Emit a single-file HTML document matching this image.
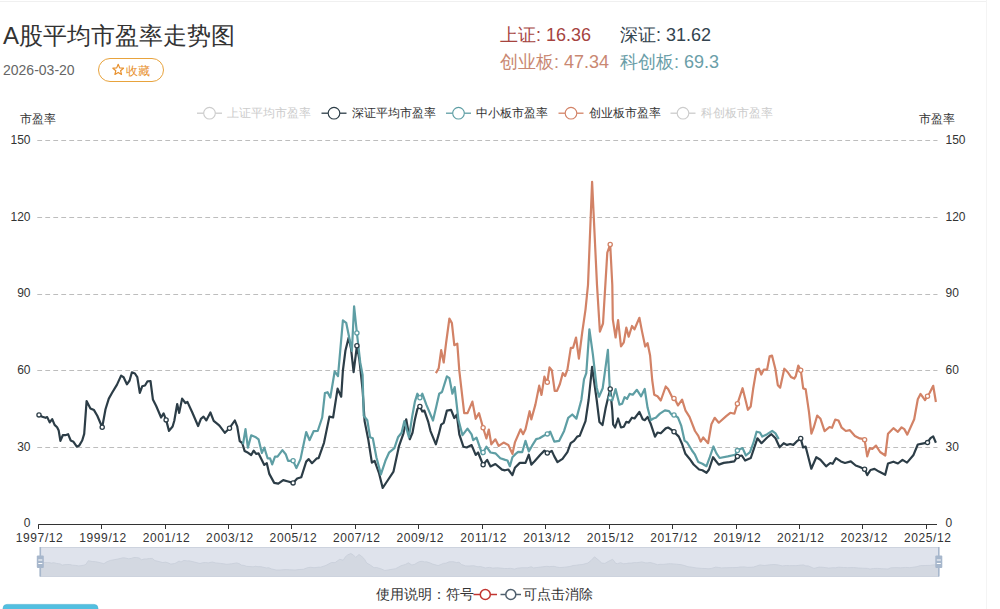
<!DOCTYPE html>
<html><head><meta charset="utf-8"><style>
html,body{margin:0;padding:0;background:#fff;}
body{width:1000px;height:609px;overflow:hidden;position:relative;font-family:"Liberation Sans",sans-serif;}
svg{position:absolute;left:0;top:0;}
.ax{font-size:12px;fill:#333;}
.lg{font-size:12px;}
.bt{font-size:14px;fill:#333;}
.ttl{font-size:24px;fill:#333;}
.dt{font-size:14px;fill:#666;}
.st{font-size:18px;}
</style></head><body>
<svg width="1000" height="609" viewBox="0 0 1000 609" font-family="Liberation Sans, sans-serif">
<line x1="0" y1="1.5" x2="986" y2="1.5" stroke="#f0f0f0" stroke-width="1"/>
<line x1="986.5" y1="0" x2="986.5" y2="609" stroke="#f4f4f4" stroke-width="1"/>
<text x="3" y="44" class="ttl">A股平均市盈率走势图</text>
<text x="3" y="75" class="dt">2026-03-20</text>
<rect x="98.5" y="58.5" width="65" height="23" rx="11.5" fill="#fff" stroke="#e8a33d" stroke-width="1"/>
<path d="M118.20,63.70 L119.67,67.28 L123.53,67.57 L120.58,70.07 L121.49,73.83 L118.20,71.80 L114.91,73.83 L115.82,70.07 L112.87,67.57 L116.73,67.28 Z" fill="none" stroke="#e8912e" stroke-width="1.2" stroke-linejoin="round" transform="translate(0,0.6)"/>
<text x="126" y="74.5" font-size="12" fill="#e8912e">收藏</text>
<text x="500" y="41" class="st" fill="#a6443f">上证: 16.36</text>
<text x="620" y="41" class="st" fill="#34444f">深证: 31.62</text>
<text x="500" y="67.5" class="st" fill="#c98872">创业板: 47.34</text>
<text x="620" y="67.5" class="st" fill="#6a9ea8">科创板: 69.3</text>
<line x1="37.3" y1="447.5" x2="937.5" y2="447.5" stroke="#bdbdbd" stroke-width="1" stroke-dasharray="4.8,3.2"/>
<line x1="37.3" y1="370.5" x2="937.5" y2="370.5" stroke="#bdbdbd" stroke-width="1" stroke-dasharray="4.8,3.2"/>
<line x1="37.3" y1="294.5" x2="937.5" y2="294.5" stroke="#bdbdbd" stroke-width="1" stroke-dasharray="4.8,3.2"/>
<line x1="37.3" y1="217.5" x2="937.5" y2="217.5" stroke="#bdbdbd" stroke-width="1" stroke-dasharray="4.8,3.2"/>
<line x1="37.3" y1="140.5" x2="937.5" y2="140.5" stroke="#bdbdbd" stroke-width="1" stroke-dasharray="4.8,3.2"/>
<text x="30.5" y="527.4" text-anchor="end" class="ax">0</text>
<text x="945.5" y="527.4" text-anchor="start" class="ax">0</text>
<text x="30.5" y="450.7" text-anchor="end" class="ax">30</text>
<text x="945.5" y="450.7" text-anchor="start" class="ax">30</text>
<text x="30.5" y="374.0" text-anchor="end" class="ax">60</text>
<text x="945.5" y="374.0" text-anchor="start" class="ax">60</text>
<text x="30.5" y="297.3" text-anchor="end" class="ax">90</text>
<text x="945.5" y="297.3" text-anchor="start" class="ax">90</text>
<text x="30.5" y="220.6" text-anchor="end" class="ax">120</text>
<text x="945.5" y="220.6" text-anchor="start" class="ax">120</text>
<text x="30.5" y="143.9" text-anchor="end" class="ax">150</text>
<text x="945.5" y="143.9" text-anchor="start" class="ax">150</text>
<line x1="38.25" y1="524.5" x2="937" y2="524.5" stroke="#333" stroke-width="1"/>
<line x1="38.5" y1="524.5" x2="38.5" y2="529" stroke="#333" stroke-width="1"/>
<text x="39.6" y="542" text-anchor="middle" class="ax" letter-spacing="0.6">1997/12</text>
<line x1="101.5" y1="524.5" x2="101.5" y2="529" stroke="#333" stroke-width="1"/>
<text x="103.1" y="542" text-anchor="middle" class="ax" letter-spacing="0.6">1999/12</text>
<line x1="165.5" y1="524.5" x2="165.5" y2="529" stroke="#333" stroke-width="1"/>
<text x="166.5" y="542" text-anchor="middle" class="ax" letter-spacing="0.6">2001/12</text>
<line x1="228.5" y1="524.5" x2="228.5" y2="529" stroke="#333" stroke-width="1"/>
<text x="229.9" y="542" text-anchor="middle" class="ax" letter-spacing="0.6">2003/12</text>
<line x1="291.5" y1="524.5" x2="291.5" y2="529" stroke="#333" stroke-width="1"/>
<text x="293.4" y="542" text-anchor="middle" class="ax" letter-spacing="0.6">2005/12</text>
<line x1="355.5" y1="524.5" x2="355.5" y2="529" stroke="#333" stroke-width="1"/>
<text x="356.8" y="542" text-anchor="middle" class="ax" letter-spacing="0.6">2007/12</text>
<line x1="418.5" y1="524.5" x2="418.5" y2="529" stroke="#333" stroke-width="1"/>
<text x="420.2" y="542" text-anchor="middle" class="ax" letter-spacing="0.6">2009/12</text>
<line x1="482.5" y1="524.5" x2="482.5" y2="529" stroke="#333" stroke-width="1"/>
<text x="483.7" y="542" text-anchor="middle" class="ax" letter-spacing="0.6">2011/12</text>
<line x1="545.5" y1="524.5" x2="545.5" y2="529" stroke="#333" stroke-width="1"/>
<text x="547.1" y="542" text-anchor="middle" class="ax" letter-spacing="0.6">2013/12</text>
<line x1="609.5" y1="524.5" x2="609.5" y2="529" stroke="#333" stroke-width="1"/>
<text x="610.5" y="542" text-anchor="middle" class="ax" letter-spacing="0.6">2015/12</text>
<line x1="672.5" y1="524.5" x2="672.5" y2="529" stroke="#333" stroke-width="1"/>
<text x="674.0" y="542" text-anchor="middle" class="ax" letter-spacing="0.6">2017/12</text>
<line x1="736.5" y1="524.5" x2="736.5" y2="529" stroke="#333" stroke-width="1"/>
<text x="737.4" y="542" text-anchor="middle" class="ax" letter-spacing="0.6">2019/12</text>
<line x1="799.5" y1="524.5" x2="799.5" y2="529" stroke="#333" stroke-width="1"/>
<text x="800.8" y="542" text-anchor="middle" class="ax" letter-spacing="0.6">2021/12</text>
<line x1="862.5" y1="524.5" x2="862.5" y2="529" stroke="#333" stroke-width="1"/>
<text x="864.3" y="542" text-anchor="middle" class="ax" letter-spacing="0.6">2023/12</text>
<line x1="926.5" y1="524.5" x2="926.5" y2="529" stroke="#333" stroke-width="1"/>
<text x="927.7" y="542" text-anchor="middle" class="ax" letter-spacing="0.6">2025/12</text>
<text x="20" y="123" class="ax">市盈率</text>
<text x="919" y="123" class="ax">市盈率</text>
<rect x="40" y="547" width="898.5" height="29.5" fill="#dfe3ec"/>
<path d="M40,576.5 L40.0,562.2 L44.0,562.5 L47.3,562.6 L48.9,562.5 L51.4,563.1 L53.9,562.7 L56.3,563.4 L58.8,563.7 L60.4,564.0 L62.1,565.2 L64.5,564.6 L67.0,564.6 L69.8,564.5 L72.4,565.2 L75.2,565.3 L78.5,565.9 L81.0,565.7 L83.9,565.2 L85.9,564.4 L88.3,560.7 L92.1,561.5 L95.7,561.7 L99.0,562.4 L103.9,563.7 L107.2,561.6 L110.5,560.4 L113.8,559.8 L118.8,558.8 L122.9,557.8 L125.4,558.0 L128.7,558.8 L131.4,558.4 L133.7,557.5 L136.7,557.6 L139.1,558.0 L141.6,559.8 L144.0,559.0 L146.8,558.9 L149.3,558.5 L152.3,558.4 L154.7,560.5 L158.0,561.3 L162.9,562.6 L165.4,562.1 L167.9,562.8 L170.8,564.1 L174.4,563.6 L176.1,562.9 L179.0,561.0 L181.0,562.0 L183.9,560.4 L187.2,560.9 L189.2,560.8 L194.2,562.0 L200.0,563.5 L202.8,562.7 L205.4,562.5 L208.2,562.9 L212.3,562.0 L215.6,562.9 L220.5,563.4 L221.9,563.6 L226.8,564.3 L231.4,563.8 L236.7,562.9 L239.1,563.6 L241.6,565.2 L244.1,565.4 L246.5,566.3 L249.0,566.5 L253.1,566.8 L255.6,566.3 L258.0,566.7 L260.5,566.6 L266.3,567.9 L268.8,567.7 L271.3,568.9 L276.2,570.0 L280.3,570.0 L285.2,569.6 L289.3,569.8 L295.1,570.0 L299.2,569.5 L303.3,569.3 L308.2,567.5 L310.7,567.3 L314.0,567.7 L318.9,567.2 L320.6,567.2 L326.0,565.4 L331.4,562.5 L335.1,562.6 L339.7,559.3 L343.3,560.2 L345.0,557.3 L347.5,555.0 L350.8,553.5 L353.2,554.8 L355.7,557.4 L359.0,554.5 L361.4,556.0 L364.7,559.5 L366.7,563.0 L370.3,565.0 L374.0,567.7 L376.7,567.5 L381.2,568.9 L384.8,570.5 L388.4,569.9 L395.6,568.7 L401.0,565.8 L405.5,564.4 L408.3,562.8 L411.9,565.0 L414.7,564.3 L417.1,562.8 L419.6,561.6 L422.1,561.3 L424.5,561.9 L426.6,561.8 L430.3,563.0 L432.7,564.1 L438.1,565.6 L440.9,564.5 L443.4,563.4 L445.9,563.2 L449.1,561.8 L453.3,561.7 L456.5,562.6 L459.0,562.2 L461.5,564.5 L465.6,565.9 L468.9,566.0 L473.8,565.7 L477.9,566.8 L480.3,566.5 L485.3,567.9 L489.5,567.4 L492.8,568.1 L497.7,567.8 L504.3,568.5 L507.3,568.5 L510.6,568.4 L514.7,569.1 L517.2,568.2 L522.1,567.7 L527.8,567.7 L531.1,566.8 L533.6,567.9 L536.9,567.5 L542.6,566.8 L546.7,566.3 L549.7,566.6 L554.1,566.3 L556.6,567.0 L559.8,567.6 L564.9,567.2 L569.8,566.5 L573.1,565.5 L576.4,565.2 L579.6,564.7 L582.1,564.6 L587.9,563.0 L591.0,560.6 L594.5,556.8 L599.1,560.6 L601.8,563.1 L604.9,563.4 L608.1,561.5 L612.6,559.3 L614.7,561.8 L615.5,563.3 L617.5,563.7 L620.5,562.7 L623.4,563.7 L626.2,563.6 L628.7,563.1 L631.1,563.1 L634.4,562.6 L636.9,562.7 L641.9,561.9 L645.2,562.8 L647.2,562.9 L650.1,562.5 L653.4,563.3 L657.5,564.7 L660.0,564.3 L663.3,564.4 L668.2,563.8 L670.6,563.7 L673.1,563.9 L676.4,564.2 L681.3,564.7 L684.6,565.6 L687.9,566.7 L692.0,567.2 L696.1,567.9 L701.6,568.4 L704.9,568.5 L709.0,568.8 L711.5,568.4 L715.7,567.1 L718.1,567.4 L721.4,567.9 L726.3,567.7 L732.1,567.6 L737.0,567.5 L740.0,567.0 L744.4,566.9 L747.7,567.4 L753.4,567.1 L756.7,566.0 L760.0,564.9 L764.1,565.5 L769.8,564.8 L774.0,564.5 L778.1,564.9 L782.2,565.9 L786.3,565.5 L789.7,565.7 L792.9,565.6 L796.0,565.7 L800.1,565.2 L803.4,564.9 L805.8,565.9 L808.3,565.9 L814.0,568.4 L819.0,567.1 L823.1,567.3 L828.8,568.1 L832.9,567.7 L835.4,567.8 L838.7,567.2 L843.6,567.5 L847.7,567.7 L853.5,567.5 L858.4,568.0 L862.5,568.2 L867.5,568.4 L870.0,569.1 L873.3,568.5 L877.3,568.4 L881.8,568.7 L888.0,569.0 L890.8,567.8 L896.2,567.6 L900.7,567.8 L905.3,567.4 L909.8,567.7 L916.1,566.8 L920.6,565.6 L925.1,565.5 L930.2,565.4 L933.3,564.9 L936.0,564.7 L938.8,565.4 L938.5,576.5 Z" fill="#d3d8e1" stroke="#c8ced9" stroke-width="0.8"/>
<rect x="40.5" y="547.5" width="898" height="29" fill="none" stroke="#cdd3de" stroke-width="1"/>
<rect x="39.5" y="547" width="1.6" height="29.5" fill="#a7b7cc"/>
<rect x="36.8" y="555.5" width="7" height="12.5" rx="1" fill="#a7b7cc"/>
<line x1="38.3" y1="560" x2="42.3" y2="560" stroke="#fff" stroke-width="1"/>
<line x1="38.3" y1="563.5" x2="42.3" y2="563.5" stroke="#fff" stroke-width="1"/>
<rect x="938.0" y="547" width="1.6" height="29.5" fill="#a7b7cc"/>
<rect x="935.3" y="555.5" width="7" height="12.5" rx="1" fill="#a7b7cc"/>
<line x1="936.8" y1="560" x2="940.8" y2="560" stroke="#fff" stroke-width="1"/>
<line x1="936.8" y1="563.5" x2="940.8" y2="563.5" stroke="#fff" stroke-width="1"/>
<path d="M38.3,414.5 L42.3,416.7 L45.6,417.8 L47.2,417.1 L49.7,422.4 L52.2,419.1 L54.6,424.9 L57.1,427.3 L58.7,430.6 L60.4,440.8 L62.8,435.2 L65.3,435.2 L68.1,434.2 L70.7,440.5 L73.5,441.8 L76.8,446.7 L79.3,445.4 L82.2,440.5 L84.2,433.9 L86.6,401.1 L90.4,408.4 L94.0,410.1 L97.3,415.8 L102.2,427.3 L105.5,409.3 L108.8,398.6 L112.1,392.8 L117.0,384.6 L121.1,375.6 L123.6,377.2 L126.9,384.3 L129.6,380.5 L131.9,372.3 L134.9,373.5 L137.3,377.2 L139.8,392.8 L142.2,386.3 L145.0,385.5 L147.5,381.3 L150.5,381.0 L152.9,399.4 L156.2,406.0 L161.1,417.5 L163.6,413.4 L166.1,419.9 L169.0,430.9 L172.6,426.5 L174.3,420.8 L177.2,404.0 L179.2,412.9 L182.1,398.6 L185.4,403.0 L187.4,401.9 L192.3,412.5 L198.1,426.0 L200.9,418.8 L203.5,416.7 L206.3,420.4 L210.4,412.5 L213.7,420.8 L218.6,424.9 L220.0,426.3 L224.9,432.8 L229.5,428.2 L234.8,420.5 L237.2,426.3 L239.7,441.1 L242.2,443.0 L244.6,450.9 L247.1,452.2 L251.2,455.0 L253.7,450.6 L256.1,453.9 L258.6,453.4 L264.3,464.9 L266.8,463.2 L269.3,473.9 L274.2,482.9 L278.3,483.7 L283.2,480.1 L287.3,481.3 L293.1,482.9 L297.2,478.5 L301.3,477.2 L306.2,461.6 L308.7,459.1 L312.0,463.2 L316.9,458.3 L318.6,458.1 L324.0,442.8 L329.4,416.6 L333.1,417.5 L337.6,388.6 L341.2,396.7 L342.9,370.5 L345.4,350.8 L348.7,337.6 L351.1,349.1 L353.6,372.1 L356.9,345.8 L359.3,359.0 L362.6,390.0 L364.6,421.1 L368.2,439.2 L371.9,462.6 L374.6,460.8 L379.1,473.4 L382.7,487.9 L386.3,482.5 L393.5,471.6 L398.9,446.4 L403.4,433.7 L406.2,419.3 L409.8,439.2 L412.5,432.8 L414.9,419.6 L417.4,409.0 L419.9,406.5 L422.3,411.4 L424.4,410.6 L428.1,421.3 L430.5,431.1 L435.9,444.3 L438.7,434.4 L441.2,424.6 L443.7,422.9 L446.9,410.6 L451.1,409.8 L454.3,418.0 L456.8,414.7 L459.3,434.4 L463.4,446.7 L466.7,447.5 L471.6,445.1 L475.7,454.9 L478.1,452.5 L483.1,464.8 L487.2,459.9 L490.5,466.4 L495.4,464.0 L502.0,469.7 L505.0,470.3 L508.3,469.5 L512.4,475.2 L514.9,467.8 L519.8,462.9 L525.5,462.9 L528.8,454.7 L531.3,464.6 L534.6,461.3 L540.3,454.7 L544.4,450.6 L547.4,453.1 L551.8,450.9 L554.3,456.4 L557.5,462.1 L562.5,458.8 L567.4,452.2 L570.7,443.2 L574.0,440.8 L577.2,436.6 L579.7,435.8 L585.5,421.1 L588.6,400.0 L592.1,366.8 L596.7,400.0 L599.4,421.9 L602.5,425.1 L605.7,407.8 L610.2,389.0 L612.3,410.3 L613.1,424.3 L615.1,427.5 L618.1,418.5 L621.0,427.5 L623.8,426.7 L626.3,421.8 L628.7,422.6 L632.0,417.7 L634.5,418.5 L639.4,411.9 L642.7,419.3 L644.7,420.2 L647.6,416.9 L650.9,424.3 L655.0,436.6 L657.5,432.5 L660.8,433.3 L665.7,428.4 L668.1,427.5 L670.6,429.2 L673.9,431.7 L678.8,436.6 L682.1,444.0 L685.4,453.8 L689.5,458.7 L693.6,464.5 L699.1,469.5 L702.4,470.3 L706.5,472.8 L709.0,469.5 L713.1,457.2 L715.5,460.5 L718.8,464.6 L723.7,462.9 L729.5,462.1 L734.4,461.3 L737.4,456.4 L741.8,455.5 L745.1,460.5 L750.8,458.0 L754.1,448.1 L757.4,438.3 L761.5,443.2 L767.2,437.5 L771.4,434.2 L775.5,438.3 L779.6,447.3 L783.7,443.2 L787.0,444.9 L790.2,444.0 L793.3,444.9 L797.4,440.8 L800.7,438.4 L803.1,447.4 L805.6,446.6 L811.3,468.7 L816.3,457.2 L820.4,459.7 L826.1,466.3 L830.2,463.0 L832.7,463.8 L836.0,458.1 L840.9,461.4 L845.0,463.0 L850.8,461.4 L855.7,465.5 L859.8,467.1 L864.7,469.2 L867.2,475.2 L870.5,470.0 L874.5,468.9 L879.0,471.6 L885.2,474.8 L888.0,463.5 L893.4,461.7 L897.9,463.5 L902.5,459.9 L907.0,462.6 L913.3,455.3 L917.8,444.5 L922.3,443.6 L927.4,442.7 L930.5,438.2 L933.2,436.4 L935.9,442.7" fill="none" stroke="#2c3d47" stroke-width="2.2" stroke-linejoin="round"/>
<path d="M243.0,444.3 L245.5,429.2 L247.9,447.6 L251.2,435.3 L255.3,436.9 L258.6,439.4 L261.9,452.9 L264.3,447.6 L267.6,458.3 L270.1,458.3 L272.2,464.4 L275.0,456.6 L277.5,456.6 L282.4,450.1 L285.7,454.2 L288.1,460.8 L293.1,460.8 L296.4,468.1 L300.5,459.1 L302.9,447.6 L306.2,432.0 L309.5,440.2 L313.6,431.2 L317.7,431.0 L322.2,417.5 L324.9,393.1 L327.6,392.2 L330.3,397.6 L334.7,371.3 L338.0,376.2 L342.9,320.4 L346.2,322.8 L351.9,350.8 L354.1,306.4 L356.9,333.0 L360.2,362.2 L362.6,375.0 L363.7,415.7 L367.3,420.2 L370.1,437.3 L372.8,438.2 L376.4,457.2 L380.9,474.4 L385.4,460.8 L389.0,452.7 L394.4,448.2 L398.0,437.3 L401.6,432.8 L404.4,421.1 L408.9,437.3 L412.5,414.7 L414.9,401.6 L417.4,393.7 L419.9,397.8 L422.3,393.7 L426.4,404.9 L433.0,420.5 L436.3,406.5 L439.2,393.7 L442.0,392.0 L446.9,376.4 L449.4,378.1 L452.4,393.7 L454.7,387.1 L458.4,419.6 L462.5,435.2 L467.5,428.7 L471.6,434.4 L473.2,440.2 L476.5,437.7 L482.2,454.1 L486.4,446.7 L490.5,452.5 L495.4,453.3 L500.3,458.2 L505.2,459.9 L507.5,460.5 L509.9,466.2 L512.4,457.2 L515.7,453.9 L518.1,451.9 L522.2,452.2 L525.5,440.8 L528.8,451.4 L532.1,445.7 L536.2,439.1 L539.5,438.3 L543.6,435.8 L546.9,434.2 L550.2,431.7 L554.3,441.6 L559.2,440.8 L564.1,430.9 L568.2,417.8 L572.3,414.5 L576.4,418.6 L581.4,399.7 L584.0,379.4 L586.3,373.1 L589.4,329.3 L592.8,353.9 L596.7,387.5 L599.0,396.7 L602.7,388.2 L607.9,349.8 L610.2,398.0 L612.3,400.5 L615.6,389.0 L619.4,404.6 L622.2,403.7 L624.6,397.2 L627.1,398.8 L629.6,393.9 L632.8,394.7 L636.9,389.8 L641.1,396.3 L644.7,389.0 L647.6,407.8 L650.9,420.2 L653.4,418.5 L655.8,417.7 L659.9,413.6 L664.9,410.3 L669.0,411.1 L671.4,414.4 L674.7,415.2 L678.0,417.7 L681.3,425.9 L684.6,440.7 L687.0,442.3 L692.0,450.5 L695.0,454.7 L698.3,462.1 L702.4,463.7 L706.5,466.2 L709.8,457.2 L713.4,446.5 L716.3,453.1 L719.6,458.0 L727.8,456.4 L735.2,454.7 L737.4,450.6 L740.2,449.0 L742.6,448.1 L745.9,455.5 L750.0,452.2 L753.3,443.2 L756.6,431.7 L759.9,432.5 L762.3,436.6 L767.2,434.2 L772.2,430.9 L775.5,433.4 L778.7,439.1" fill="none" stroke="#5e9ea4" stroke-width="2.2" stroke-linejoin="round"/>
<path d="M435.9,373.1 L438.7,368.2 L441.2,350.2 L443.7,362.5 L446.1,342.8 L449.4,318.5 L451.9,323.1 L454.3,345.2 L457.3,343.6 L459.3,370.7 L464.2,413.1 L467.5,413.1 L472.4,401.6 L475.7,418.8 L479.0,413.1 L483.1,427.8 L486.4,438.5 L488.8,429.5 L491.3,444.3 L495.4,439.3 L498.7,445.9 L503.6,442.6 L508.3,444.9 L512.4,453.9 L514.9,442.4 L520.6,429.3 L523.1,434.2 L525.5,429.3 L529.6,411.2 L531.3,419.4 L535.4,404.6 L539.2,385.7 L541.5,394.9 L544.4,376.6 L546.1,381.1 L547.2,382.9 L549.5,367.4 L551.8,370.2 L554.7,390.9 L557.0,390.9 L559.9,384.0 L562.8,373.1 L565.1,376.0 L567.4,369.7 L570.8,347.8 L573.1,347.8 L576.0,337.5 L578.9,358.7 L582.2,332.5 L585.5,309.6 L588.0,285.0 L592.1,181.9 L597.0,285.0 L599.9,331.7 L603.0,323.5 L607.3,252.6 L610.2,244.5 L612.3,285.0 L612.8,319.4 L615.6,337.5 L618.1,320.2 L621.0,346.5 L623.8,342.4 L626.3,327.6 L628.7,336.6 L632.0,326.0 L634.5,329.3 L639.4,317.8 L641.9,330.9 L645.2,346.5 L647.6,343.2 L650.1,355.5 L652.2,380.0 L654.2,394.7 L657.5,396.3 L660.8,400.5 L665.7,386.5 L668.1,389.0 L672.2,397.2 L674.7,398.8 L678.0,405.4 L682.1,399.6 L685.4,410.3 L689.5,416.9 L695.0,431.0 L698.3,435.8 L700.7,441.6 L703.2,437.5 L708.1,443.2 L711.4,424.3 L714.7,417.8 L718.8,422.7 L726.2,416.1 L730.3,412.8 L734.4,413.7 L737.4,403.8 L742.6,388.2 L744.9,397.5 L747.9,409.8 L750.7,406.5 L753.1,389.3 L756.4,369.6 L758.9,368.7 L761.3,374.5 L763.8,369.6 L767.1,369.6 L769.6,356.4 L772.0,355.6 L775.3,368.7 L777.8,385.2 L780.2,387.6 L784.3,368.7 L787.6,372.0 L790.9,376.9 L794.2,378.6 L795.8,376.1 L798.3,365.5 L800.8,370.4 L803.2,388.4 L805.7,389.3 L809.0,412.2 L811.4,433.6 L813.9,427.0 L817.2,415.5 L820.5,418.8 L824.6,431.1 L829.5,427.0 L832.0,427.8 L835.2,419.6 L838.5,420.5 L841.7,427.7 L845.8,431.0 L849.9,430.2 L854.9,435.9 L859.8,438.4 L864.5,439.1 L867.2,456.3 L869.8,448.1 L872.3,449.0 L876.0,445.6 L880.1,452.0 L885.3,455.5 L888.0,433.7 L893.4,428.2 L897.9,431.8 L901.6,427.3 L904.3,429.1 L907.3,434.6 L914.2,419.2 L917.8,399.3 L920.5,393.9 L925.0,400.2 L927.8,395.7 L929.6,393.0 L933.2,385.8 L935.9,402.0" fill="none" stroke="#d28266" stroke-width="2.2" stroke-linejoin="round"/>
<circle cx="39.0" cy="414.9" r="2.1" fill="#fff" stroke="#2c3d47" stroke-width="1.3"/>
<circle cx="102.2" cy="427.3" r="2.1" fill="#fff" stroke="#2c3d47" stroke-width="1.3"/>
<circle cx="166.1" cy="419.9" r="2.1" fill="#fff" stroke="#2c3d47" stroke-width="1.3"/>
<circle cx="229.5" cy="428.2" r="2.1" fill="#fff" stroke="#2c3d47" stroke-width="1.3"/>
<circle cx="293.1" cy="482.9" r="2.1" fill="#fff" stroke="#2c3d47" stroke-width="1.3"/>
<circle cx="356.9" cy="345.8" r="2.1" fill="#fff" stroke="#2c3d47" stroke-width="1.3"/>
<circle cx="419.9" cy="406.5" r="2.1" fill="#fff" stroke="#2c3d47" stroke-width="1.3"/>
<circle cx="483.1" cy="464.8" r="2.1" fill="#fff" stroke="#2c3d47" stroke-width="1.3"/>
<circle cx="547.3" cy="453.0" r="2.1" fill="#fff" stroke="#2c3d47" stroke-width="1.3"/>
<circle cx="610.2" cy="389.0" r="2.1" fill="#fff" stroke="#2c3d47" stroke-width="1.3"/>
<circle cx="674.0" cy="431.8" r="2.1" fill="#fff" stroke="#2c3d47" stroke-width="1.3"/>
<circle cx="737.4" cy="456.4" r="2.1" fill="#fff" stroke="#2c3d47" stroke-width="1.3"/>
<circle cx="800.7" cy="438.4" r="2.1" fill="#fff" stroke="#2c3d47" stroke-width="1.3"/>
<circle cx="864.6" cy="469.2" r="2.1" fill="#fff" stroke="#2c3d47" stroke-width="1.3"/>
<circle cx="927.5" cy="442.6" r="2.1" fill="#fff" stroke="#2c3d47" stroke-width="1.3"/>
<circle cx="293.1" cy="460.8" r="2.1" fill="#fff" stroke="#5e9ea4" stroke-width="1.3"/>
<circle cx="356.9" cy="333.0" r="2.1" fill="#fff" stroke="#5e9ea4" stroke-width="1.3"/>
<circle cx="419.9" cy="397.8" r="2.1" fill="#fff" stroke="#5e9ea4" stroke-width="1.3"/>
<circle cx="483.1" cy="452.5" r="2.1" fill="#fff" stroke="#5e9ea4" stroke-width="1.3"/>
<circle cx="547.3" cy="433.9" r="2.1" fill="#fff" stroke="#5e9ea4" stroke-width="1.3"/>
<circle cx="610.2" cy="398.0" r="2.1" fill="#fff" stroke="#5e9ea4" stroke-width="1.3"/>
<circle cx="674.0" cy="415.0" r="2.1" fill="#fff" stroke="#5e9ea4" stroke-width="1.3"/>
<circle cx="737.4" cy="450.6" r="2.1" fill="#fff" stroke="#5e9ea4" stroke-width="1.3"/>
<circle cx="483.1" cy="427.8" r="2.1" fill="#fff" stroke="#d28266" stroke-width="1.3"/>
<circle cx="547.3" cy="382.2" r="2.1" fill="#fff" stroke="#d28266" stroke-width="1.3"/>
<circle cx="610.2" cy="244.5" r="2.1" fill="#fff" stroke="#d28266" stroke-width="1.3"/>
<circle cx="674.0" cy="398.4" r="2.1" fill="#fff" stroke="#d28266" stroke-width="1.3"/>
<circle cx="737.4" cy="403.8" r="2.1" fill="#fff" stroke="#d28266" stroke-width="1.3"/>
<circle cx="800.7" cy="370.2" r="2.1" fill="#fff" stroke="#d28266" stroke-width="1.3"/>
<circle cx="864.6" cy="439.7" r="2.1" fill="#fff" stroke="#d28266" stroke-width="1.3"/>
<circle cx="927.5" cy="396.2" r="2.1" fill="#fff" stroke="#d28266" stroke-width="1.3"/>
<line x1="197.0" y1="113.2" x2="222.0" y2="113.2" stroke="#ccc" stroke-width="1.3"/>
<circle cx="209.5" cy="113.2" r="5.8" fill="#fff" stroke="#ccc" stroke-width="1.1"/>
<text x="227.0" y="117" class="lg" fill="#ccc">上证平均市盈率</text>
<line x1="321.5" y1="113.2" x2="346.5" y2="113.2" stroke="#2c3d47" stroke-width="1.3"/>
<circle cx="334.0" cy="113.2" r="5.8" fill="#fff" stroke="#2c3d47" stroke-width="1.1"/>
<text x="351.5" y="117" class="lg" fill="#333">深证平均市盈率</text>
<line x1="446.0" y1="113.2" x2="471.0" y2="113.2" stroke="#5e9ea4" stroke-width="1.3"/>
<circle cx="458.5" cy="113.2" r="5.8" fill="#fff" stroke="#5e9ea4" stroke-width="1.1"/>
<text x="476.0" y="117" class="lg" fill="#333">中小板市盈率</text>
<line x1="558.5" y1="113.2" x2="583.5" y2="113.2" stroke="#d28266" stroke-width="1.3"/>
<circle cx="571.0" cy="113.2" r="5.8" fill="#fff" stroke="#d28266" stroke-width="1.1"/>
<text x="588.5" y="117" class="lg" fill="#333">创业板市盈率</text>
<line x1="670.5" y1="113.2" x2="695.5" y2="113.2" stroke="#ccc" stroke-width="1.3"/>
<circle cx="683.0" cy="113.2" r="5.8" fill="#fff" stroke="#ccc" stroke-width="1.1"/>
<text x="700.5" y="117" class="lg" fill="#ccc">科创板市盈率</text>
<text x="376" y="599" class="bt">使用说明：符号</text>
<line x1="473.5" y1="594.5" x2="497" y2="594.5" stroke="#c23531" stroke-width="1.5"/>
<circle cx="485.3" cy="594.5" r="5" fill="#fff" stroke="#c23531" stroke-width="1.5"/>
<line x1="500.5" y1="594.5" x2="521" y2="594.5" stroke="#50606e" stroke-width="1.5"/>
<circle cx="510.8" cy="594.5" r="5" fill="#fff" stroke="#50606e" stroke-width="1.5"/>
<text x="523" y="599" class="bt">可点击消除</text>
<rect x="3" y="604.4" width="95" height="12" rx="4" fill="#52bfe0" stroke="#49b0d2" stroke-width="0.6"/>
</svg>
</body></html>
